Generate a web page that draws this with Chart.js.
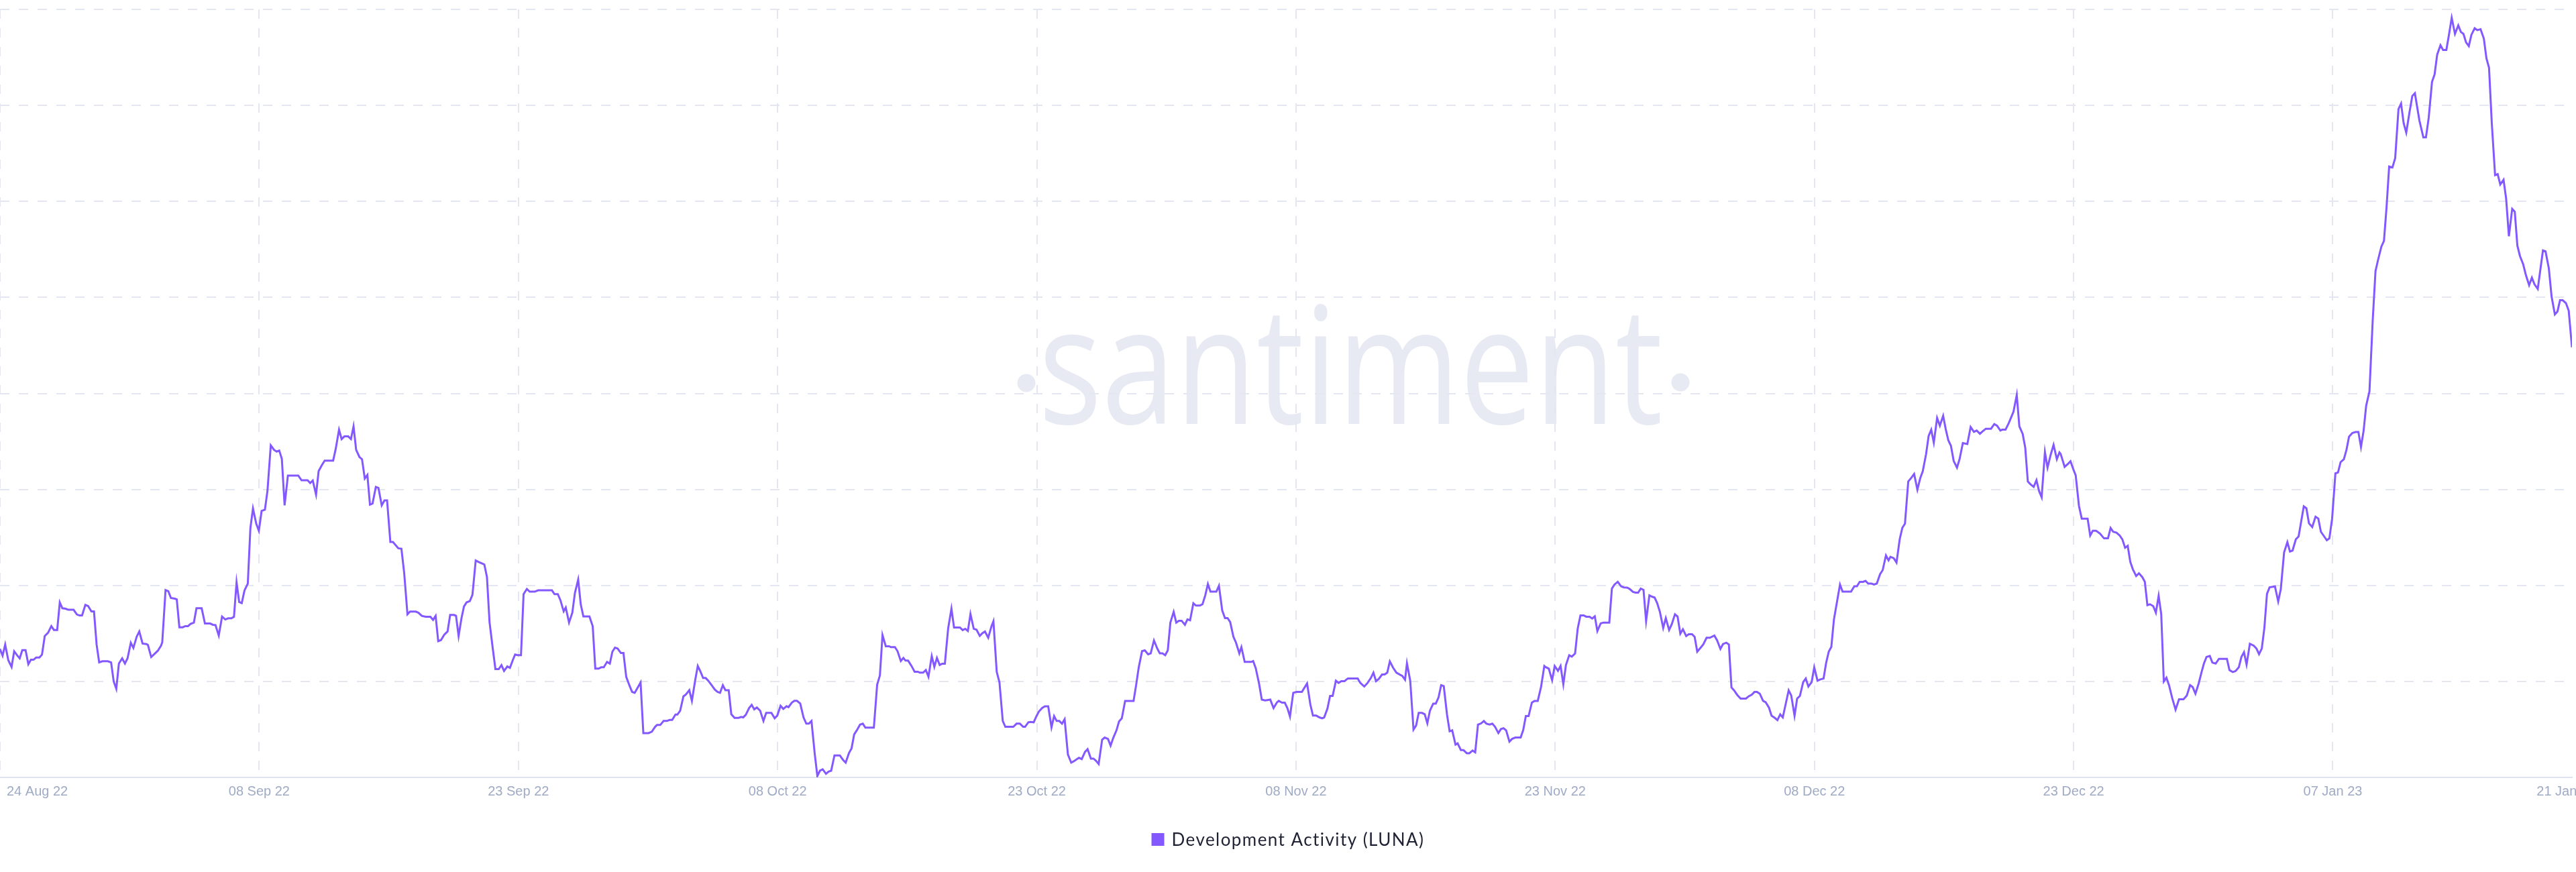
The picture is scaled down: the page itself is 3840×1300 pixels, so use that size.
<!DOCTYPE html>
<html>
<head>
<meta charset="utf-8">
<script src="https://cdn.jsdelivr.net/npm/chart.js@4.4.0/dist/chart.umd.min.js"></script>
<style>
html,body{margin:0;padding:0;background:#ffffff;}
#wrap{width:3840px;height:1300px;position:relative;}
canvas{display:block;}
</style>
</head>
<body>
<div id="wrap"><canvas id="chart" width="3840" height="1300"></canvas></div>
<script>
// ---- DATA ----
const seriesName = 'Development Activity (LUNA)';
const watermarkText = 'santiment';

const tickLabels = ['24 Aug 22','08 Sep 22','23 Sep 22','08 Oct 22','23 Oct 22','08 Nov 22','23 Nov 22','08 Dec 22','23 Dec 22','07 Jan 23','21 Jan 23'];
// position of each tick label on the time axis, in days after 24 Aug 2022
const tickDays = [0, 15, 30, 45, 60, 75, 90, 105, 120, 135, 148.5];

// days after 24 Aug 2022
const dayOffsets = [
0,0.15,0.30,0.48,0.67,0.82,0.99,1.14,1.29,1.48,
1.64,1.79,1.94,2.09,2.28,2.43,2.59,2.78,2.97,3.12,
3.31,3.46,3.61,3.80,3.95,4.26,4.45,4.60,4.75,4.94,
5.10,5.29,5.44,5.59,5.74,5.93,6.24,6.43,6.58,6.73,
6.88,7.07,7.23,7.38,7.57,7.72,7.91,8.06,8.25,8.48,
8.56,8.75,8.94,9.13,9.32,9.39,9.58,9.74,9.89,10.12,
10.23,10.38,10.57,10.72,10.88,11.03,11.22,11.37,11.67,11.86,
12.17,12.32,12.47,12.66,12.85,13.04,13.20,13.39,13.54,13.69,
13.84,13.99,14.15,14.34,14.49,14.64,14.83,14.98,15.14,15.33,
15.48,15.67,15.86,16.01,16.16,16.31,16.47,16.66,17.26,17.45,
17.80,17.95,18.10,18.29,18.44,18.63,18.79,19.28,19.43,19.62,
19.77,19.93,20.15,20.31,20.46,20.61,20.80,20.95,21.11,21.26,
21.41,21.56,21.75,21.90,22.09,22.25,22.40,22.59,22.74,23.05,
23.23,23.39,23.58,23.73,24.07,24.22,24.41,24.64,24.91,25.06,
25.21,25.36,25.52,25.71,25.90,26.05,26.28,26.39,26.54,26.70,
26.85,27.00,27.19,27.34,27.53,27.72,27.95,28.03,28.18,28.33,
28.52,28.67,28.86,29.02,29.17,29.36,29.51,29.70,29.81,
29.96,30.15,30.30,30.49,30.65,30.95,31.14,31.94,32.09,32.28,
32.43,32.62,32.74,32.93,33.12,33.27,33.46,33.61,33.76,34.11,
34.30,34.45,34.64,34.79,34.94,35.13,35.29,35.44,35.59,35.74,
35.93,36.08,36.24,36.43,36.58,36.73,37.07,37.23,37.53,37.72,
37.91,38.02,38.21,38.40,38.59,38.75,38.90,39.09,39.20,39.36,
39.55,39.70,39.89,40.04,40.23,40.38,40.53,40.69,40.84,40.99,
41.18,41.37,41.52,41.67,41.83,41.98,42.17,42.32,42.51,42.74,
42.89,43.01,43.16,43.35,43.50,43.65,43.80,43.99,44.18,44.34,
44.64,44.83,44.98,45.17,45.33,45.52,45.63,45.82,45.97,46.12,
46.31,46.50,46.66,46.81,46.96,47.15,47.30,47.45,47.61,47.80,
47.95,48.10,48.29,48.60,48.79,48.94,49.13,49.28,49.43,49.58,
49.77,49.93,50.08,50.57,50.76,50.92,51.07,51.26,51.45,51.56,
51.79,51.94,52.13,52.28,52.40,52.55,52.74,52.93,53.12,53.23,
53.42,53.58,53.73,53.92,54.07,54.22,54.38,54.53,54.68,54.87,
55.06,55.21,55.55,55.71,55.86,56.01,56.16,56.35,56.51,56.70,
56.85,57.00,57.19,57.38,57.49,57.68,57.84,58.03,58.18,58.64,
58.83,59.02,59.21,59.32,59.51,59.63,
59.82,59.97,60.12,60.31,60.47,60.66,60.85,61.00,61.15,61.30,
61.46,61.61,61.80,61.99,62.14,62.29,62.44,62.60,62.79,62.94,
63.13,63.28,63.43,63.58,63.78,63.93,64.12,64.27,64.42,64.61,
64.76,64.92,65.11,65.60,65.75,65.90,66.09,66.25,66.44,66.59,
66.78,66.97,67.12,67.27,67.43,67.58,67.73,67.92,68.07,68.22,
68.38,68.57,68.72,68.87,69.06,69.21,69.44,69.59,69.75,69.90,
70.05,70.39,70.54,70.73,70.89,71.04,71.19,71.38,71.53,71.72,
71.84,72.03,72.41,72.52,72.67,72.86,73.02,73.21,73.51,73.70,
73.89,74.00,74.19,74.35,74.50,74.65,74.84,75.03,75.34,75.64,
75.83,75.98,76.17,76.36,76.51,76.63,76.82,76.97,77.12,77.31,
77.46,77.62,77.81,78.00,78.57,78.72,78.95,79.14,79.33,79.48,
79.63,79.79,79.98,80.13,80.28,80.43,80.62,80.81,81.00,81.15,
81.31,81.42,81.61,81.80,81.95,82.10,82.29,82.45,82.60,82.75,
82.94,83.09,83.25,83.40,83.55,83.74,83.89,84.04,84.23,84.35,
84.54,84.69,84.88,85.03,85.22,85.37,85.53,85.72,85.87,86.02,
86.21,86.36,86.52,86.71,86.86,87.01,87.16,87.35,87.50,87.69,
88.00,88.15,88.30,88.46,88.65,88.80,88.99,89.18,89.37,89.44,
89.63,89.82,89.97,90.16,90.31,90.47,90.62,90.81,90.96,91.15,
91.30,91.46,91.65,91.80,91.99,92.14,92.29,92.44,92.63,92.79,
93.13,93.28,93.43,93.62,93.81,93.97,94.16,94.31,94.50,94.65,
94.80,94.95,95.11,95.26,95.45,95.60,95.75,95.90,96.06,96.25,
96.40,96.59,96.74,96.93,97.08,97.24,97.39,97.58,97.73,97.92,
98.07,98.22,98.41,98.57,98.76,98.95,99.21,99.37,99.56,99.71,
99.90,100.05,100.20,100.35,100.54,100.73,101.04,101.19,101.38,101.53,
101.68,101.84,102.03,102.18,102.37,102.52,102.71,102.86,103.02,103.17,
103.51,103.66,103.85,104.00,104.16,104.35,104.50,104.65,104.84,104.99,
105.18,105.34,105.53,105.68,105.83,105.98,106.13,106.48,106.63,107.12,
107.31,107.46,107.62,107.81,107.96,108.11,108.30,108.45,108.61,108.80,
108.95,109.14,109.29,109.40,109.59,109.75,109.94,110.09,110.24,110.43,
110.62,110.77,110.96,111.12,111.27,111.46,111.61,111.76,111.91,112.10,
112.26,112.45,112.60,112.75,112.90,113.06,113.25,113.40,113.59,113.85,
114.04,114.23,114.39,114.58,114.73,114.92,115.22,115.41,115.57,115.76,
115.87,116.06,116.25,116.52,116.71,116.86,117.05,117.20,117.35,117.50,
117.69,117.85,118.00,118.15,118.34,118.49,118.68,118.84,119.03,119.18,
119.25,
119.48,119.67,119.82,119.97,120.12,120.31,120.47,120.81,120.96,121.11,
121.30,121.53,121.76,121.99,122.14,122.29,122.48,122.67,122.82,122.98,
123.13,123.28,123.43,123.62,123.78,123.97,124.12,124.27,124.42,124.61,
124.76,124.92,125.07,125.22,125.37,125.52,125.71,125.90,126.10,126.36,
126.55,126.74,126.89,127.05,127.24,127.39,127.54,127.69,127.88,128.03,
128.22,128.41,128.87,129.02,129.21,129.37,129.56,129.71,129.86,130.01,
130.20,130.43,130.58,130.73,130.89,131.04,131.19,131.34,131.65,131.84,
131.99,132.18,132.37,132.52,132.67,132.86,133.02,133.17,133.32,133.47,
133.62,133.81,134.00,134.16,134.31,134.50,134.65,134.80,134.96,135.15,
135.30,135.45,135.64,135.79,135.94,136.13,136.32,136.48,136.63,136.78,
136.93,137.12,137.31,137.47,137.62,137.81,137.96,138.11,138.26,138.45,
138.61,138.80,138.95,139.10,139.25,139.44,139.60,139.75,140.01,140.24,
140.39,140.55,140.74,140.89,141.04,141.23,141.38,141.57,141.72,141.88,
142.07,142.26,142.41,142.56,142.71,142.87,143.02,143.21,143.36,143.55,
143.74,143.89,144.04,144.20,144.39,144.54,144.69,144.88,145.03,145.19,
145.38,145.53,145.68,145.83,146.02,146.17,146.36,146.52,146.67,146.86,
147.16,147.31,147.50,147.66,147.85,148.00,148.15,148.30,148.49,148.65,
148.84
];

const devActivity = [
13.38,12.68,13.84,12.21,11.51,13.14,12.72,12.40,13.26,13.26,
11.79,12.26,12.26,12.49,12.49,12.79,14.73,15.06,15.76,15.36,
15.36,18.23,17.62,17.57,17.46,17.46,16.97,16.87,16.87,17.97,
17.85,17.29,17.29,13.84,11.98,12.10,12.10,11.98,10.00,9.23,
11.86,12.40,11.86,12.40,14.03,13.49,14.66,15.20,13.94,13.89,
13.80,12.54,12.87,13.19,13.73,14.08,19.51,19.39,18.69,18.62,
18.55,15.64,15.64,15.76,15.76,15.99,16.13,17.62,17.62,16.03,
16.03,15.90,15.87,14.78,16.76,16.45,16.57,16.57,16.73,20.32,
18.27,18.16,19.48,20.18,25.96,28.02,26.43,25.69,27.76,27.88,
29.88,34.59,34.12,33.94,34.05,33.19,28.34,31.44,31.44,30.95,
30.95,30.67,30.93,29.46,31.91,32.54,33.00,33.00,34.24,36.22,
35.24,35.52,35.52,35.24,36.57,34.12,33.38,33.14,31.14,31.51,
28.41,28.53,30.25,30.16,28.34,28.86,28.86,24.52,24.52,23.87,
23.82,21.30,16.99,17.27,17.27,17.15,16.83,16.73,16.73,16.41,
16.83,14.19,14.31,14.87,15.20,16.92,16.92,16.83,14.73,16.52,
17.81,18.23,18.37,19.02,22.59,22.42,22.24,22.17,20.88,16.17,
13.38,11.28,11.28,11.70,11.09,11.56,11.42,12.33,12.8,
12.73,12.73,19.09,19.63,19.35,19.35,19.49,19.49,19.09,19.09,
18.47,17.30,17.70,16.13,17.16,19.21,20.61,18.00,16.76,16.76,
15.76,11.33,11.33,11.47,11.47,12.03,11.85,13.10,13.52,13.43,
12.96,12.96,10.47,9.56,8.91,8.81,9.89,4.62,4.62,4.76,
5.27,5.46,5.46,5.88,5.88,5.99,5.99,6.55,6.55,6.95,
8.44,8.65,9.09,7.98,10.12,11.61,11.05,10.35,10.35,10.07,
9.61,9.14,8.91,8.81,9.61,9.09,9.09,6.58,6.20,6.20,
6.30,6.25,6.53,7.23,7.56,7.09,7.28,6.95,5.88,6.72,
6.72,6.16,6.44,7.46,7.14,7.42,7.32,7.79,7.98,7.98,
7.70,6.25,5.60,5.60,5.88,2.43,0.15,0.70,0.84,0.38,
0.61,0.70,2.29,2.29,1.82,1.54,2.54,3.03,4.48,4.90,
5.50,5.60,5.18,5.18,9.65,10.63,14.83,13.66,13.66,13.57,
13.57,13.15,12.12,12.45,12.17,12.17,11.64,11.01,11.01,10.91,
10.91,11.19,10.49,12.64,11.52,12.45,11.71,11.85,11.85,15.53,
17.58,15.62,15.62,15.34,15.48,15.25,17.02,15.48,15.39,14.74,
15.02,15.20,14.55,15.76,16.27,11.01,9.89,5.88,5.27,5.27,
5.60,5.60,5.27,5.27,5.74,5.78,
5.74,6.34,6.86,7.23,7.41,7.41,5.22,6.39,5.88,5.88,
5.60,6.06,2.38,1.54,1.68,1.87,2.05,1.91,2.66,2.94,
1.96,1.96,1.73,1.40,3.92,4.15,4.01,3.31,4.10,4.90,
5.83,6.16,7.97,7.97,9.65,11.47,13.15,13.24,12.82,12.92,
14.27,13.43,12.92,12.92,12.73,13.24,16.13,17.25,16.13,16.32,
16.32,15.90,16.46,16.37,18.14,17.90,17.90,18.04,18.98,20.14,
19.35,19.35,19.96,17.39,16.60,16.60,16.18,14.64,14.03,12.92,
13.57,12.03,12.03,12.12,11.38,9.79,8.11,8.02,8.11,7.23,
7.79,7.97,7.79,7.79,7.23,6.34,8.81,8.91,8.91,9.79,
7.60,6.44,6.44,6.25,6.16,6.25,7.18,8.49,8.49,10.07,
9.84,10.03,10.03,10.31,10.31,9.84,9.47,9.84,10.35,10.91,
10.03,10.26,10.72,10.72,10.91,12.08,11.42,10.91,10.72,10.58,
10.17,11.89,10.07,4.99,5.41,6.72,6.72,6.58,5.64,6.95,
7.69,7.69,8.35,9.61,9.51,6.53,4.80,4.90,3.41,3.55,
2.85,2.85,2.52,2.52,2.80,2.61,5.50,5.64,5.88,5.60,
5.50,5.60,5.27,4.62,5.04,5.13,4.90,3.73,4.01,4.15,
4.15,4.94,6.39,6.39,7.79,7.97,7.97,9.42,11.61,11.5,
11.33,10.12,11.61,11.10,11.61,9.70,11.70,12.73,12.59,12.91,
15.48,16.88,16.88,16.74,16.74,16.55,16.78,15.25,16.04,16.13,
16.13,19.67,20.09,20.37,19.91,19.79,19.77,19.63,19.32,19.25,
19.25,19.67,19.53,16.29,18.97,18.83,18.74,18.16,17.23,15.57,
16.60,15.36,15.94,16.99,16.76,14.97,15.43,14.73,14.92,14.92,
14.64,13.10,13.50,13.85,14.55,14.55,14.78,14.27,13.38,13.89,
14.03,13.85,9.37,9.07,8.58,8.21,8.21,8.44,8.63,8.90,
8.90,8.72,7.97,7.83,7.27,6.43,6.20,5.97,6.57,6.25,
9.07,8.53,6.43,8.21,8.49,9.93,10.30,9.46,9.93,11.47,
10.07,10.21,10.30,11.94,13.10,13.61,16.46,20.09,19.35,19.35,
19.91,19.91,20.37,20.37,20.47,20.19,20.19,20.09,20.19,21.17,
21.59,23.12,22.61,22.98,22.84,22.38,24.85,26.01,26.43,30.82,
31.24,31.61,29.98,31.14,31.89,33.66,35.57,36.22,34.87,37.44,
36.64,37.67,36.27,35.11,34.55,32.96,32.26,33.15,34.83,34.73,
36.50,35.99,36.13,35.80,36.04,36.32,36.32,36.81,36.64,36.13,
36.22,36.22,36.92,38.09,39.84,36.57,35.80,34.36,30.82,30.54,
30.26,30.96,29.84,29.18,33.89,32.26,33.66,34.64,33.15,33.85,
33.7,
32.35,32.65,32.94,32.16,31.47,28.28,26.96,26.96,25.19,25.69,
25.69,25.39,24.90,24.90,25.98,25.59,25.49,25.19,24.80,23.92,
24.12,22.45,21.67,20.98,21.27,20.88,20.39,17.94,18.04,17.84,
17.16,18.92,17.01,10.00,10.39,9.61,8.23,7.06,8.14,8.14,
8.53,9.61,9.41,8.72,9.80,10.88,11.86,12.55,12.65,11.96,
11.86,12.35,12.35,11.18,10.98,11.08,11.47,12.55,13.04,11.76,
13.92,13.72,13.43,12.84,13.43,15.59,19.12,19.80,19.90,18.33,
19.61,23.43,24.51,23.53,23.63,24.80,25.10,26.67,28.23,28.04,
26.47,26.08,27.16,26.96,25.59,25.10,24.71,24.90,26.96,31.67,
31.76,32.84,33.14,34.12,35.49,35.88,35.98,35.98,34.41,36.08,
38.72,40.20,47.65,52.74,53.92,55.29,55.88,59.41,63.63,63.53,
64.51,69.61,70.20,68.14,67.16,69.31,70.98,71.27,68.43,66.67,
66.67,68.72,72.45,73.23,75.29,76.27,75.78,75.78,77.35,79.12,
77.45,78.33,77.65,77.45,76.57,76.18,77.35,78.04,77.84,77.94,
76.96,74.90,73.92,68.14,62.74,62.84,61.76,62.25,60.29,56.37,
59.22,58.92,55.39,54.31,53.43,52.35,51.27,52.06,51.37,50.88,
54.90,54.80,53.04,50.10,48.23,48.53,49.71,49.71,49.41,48.63,
44.80
];

// ---- STYLE ----
const LINE_COLOR = '#8358ff';
const GRID_COLOR = '#e4e7f1';
const AXIS_COLOR = '#dfe3ee';
const TICK_COLOR = '#9faac4';
const LEGEND_TEXT = '#1f2233';
const WATERMARK_COLOR = '#e7eaf3';

const points = dayOffsets.map((d, i) => ({ x: d, y: devActivity[i] }));

const backgroundAndWatermark = {
  id: 'backgroundAndWatermark',
  beforeDraw(chart) {
    const ctx = chart.ctx;
    ctx.save();
    ctx.fillStyle = '#ffffff';
    ctx.fillRect(0, 0, chart.width, chart.height);
    ctx.fillStyle = WATERMARK_COLOR;
    ctx.font = '243px "Open Sans", "DejaVu Sans", sans-serif';
    ctx.textBaseline = 'alphabetic';
    ctx.textAlign = 'left';
    const m = ctx.measureText(watermarkText);
    const ink = m.actualBoundingBoxLeft + m.actualBoundingBoxRight;
    const targetW = 917;
    const sx = targetW / ink;
    ctx.translate(1558, 632);
    ctx.scale(sx, 1);
    ctx.fillText(watermarkText, m.actualBoundingBoxLeft, 0);
    ctx.restore();
    ctx.save();
    ctx.fillStyle = WATERMARK_COLOR;
    ctx.beginPath(); ctx.arc(1530, 571, 13.5, 0, Math.PI * 2); ctx.fill();
    ctx.beginPath(); ctx.arc(2505, 570, 13.5, 0, Math.PI * 2); ctx.fill();
    ctx.restore();
  }
};

const labelsAndLegend = {
  id: 'labelsAndLegend',
  afterDraw(chart) {
    const { ctx, chartArea } = chart;
    const xs = chart.scales.x;
    ctx.save();
    ctx.font = '20px "Liberation Sans", Arial, sans-serif';
    ctx.fillStyle = TICK_COLOR;
    ctx.textAlign = 'center';
    ctx.textBaseline = 'alphabetic';
    tickLabels.forEach((t, i) => {
      let px = xs.getPixelForValue(tickDays[i]);
      const w = ctx.measureText(t).width;
      px = Math.max(px, chartArea.left + 10 + w / 2);
      ctx.fillText(t, px, chartArea.bottom + 27);
    });
    // legend
    ctx.font = '26px Lato, "Open Sans", sans-serif';
    const baseW = ctx.measureText(seriesName).width;
    const targetTextW = 376;
    if ('letterSpacing' in ctx) {
      const ls = Math.max(0, (targetTextW - baseW) / (seriesName.length - 1));
      ctx.letterSpacing = ls.toFixed(2) + 'px';
    }
    const tw = ctx.measureText(seriesName).width;
    const box = 19, gap = 11;
    const total = box + gap + tw;
    const x0 = chart.width / 2 - total / 2;
    const boxTop = chartArea.bottom + 83;
    ctx.fillStyle = LINE_COLOR;
    ctx.fillRect(x0, boxTop, box, box);
    ctx.fillStyle = LEGEND_TEXT;
    ctx.textAlign = 'left';
    ctx.fillText(seriesName, x0 + box + gap, boxTop + 18.5);
    ctx.restore();
  }
};

new Chart(document.getElementById('chart'), {
  type: 'line',
  data: {
    datasets: [{
      label: seriesName,
      data: points,
      borderColor: LINE_COLOR,
      backgroundColor: LINE_COLOR,
      borderWidth: 3,
      pointRadius: 0,
      pointHoverRadius: 0,
      tension: 0,
      fill: false
    }]
  },
  options: {
    responsive: false,
    animation: false,
    devicePixelRatio: 1,
    layout: { padding: { left: 0, right: 6, top: 14, bottom: 141 } },
    plugins: { legend: { display: false }, tooltip: { enabled: false } },
    scales: {
      x: {
        type: 'linear',
        min: 0,
        max: 148.84,
        afterBuildTicks: (s) => { s.ticks = tickDays.map(v => ({ value: v })); },
        ticks: { display: false },
        grid: {
          drawTicks: false,
          lineWidth: 2,
          color: (c) => (c.tick && c.tick.value > 140) ? 'rgba(0,0,0,0)' : GRID_COLOR
        },
        border: { display: true, color: AXIS_COLOR, width: 2, dash: [14, 14] }
      },
      y: {
        min: 0,
        max: 80,
        ticks: { display: false, stepSize: 10 },
        grid: {
          drawTicks: false,
          lineWidth: 2,
          color: (c) => (c.tick && c.tick.value === 0) ? 'rgba(0,0,0,0)' : GRID_COLOR
        },
        border: { display: false, dash: [14, 14] }
      }
    }
  },
  plugins: [backgroundAndWatermark, labelsAndLegend]
});
</script>
</body>
</html>
